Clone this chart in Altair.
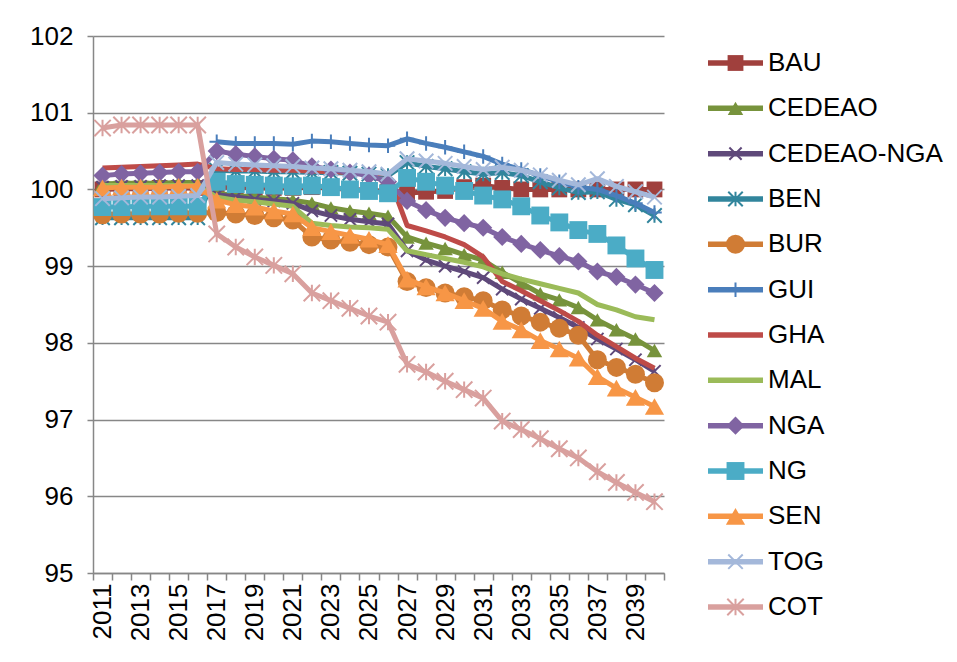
import altair as alt
import pandas as pd

years = list(range(2011, 2041))

BAU = [100.00, 100.01, 100.01, 100.02, 100.02, 100.02,
       100.03, 100.03, 100.02, 100.02, 100.02, 100.03, 100.02, 100.00, 99.99, 99.97,
       99.95, 99.97, 99.98, 100.03, 100.05, 100.02, 100.00, 100.00, 100.00, 100.00, 100.00, 100.00, 100.00, 100.00]
CEDEAO = [100.07, 100.08, 100.08, 100.08, 100.09, 100.09,
          99.95, 99.92, 99.90, 99.88, 99.86, 99.82, 99.76, 99.72, 99.69, 99.65,
          99.38, 99.30, 99.23, 99.15, 99.08, 98.92, 98.78, 98.64, 98.56, 98.46, 98.30, 98.17, 98.05, 97.90]
CEDEAO_NGA = [100.03, 100.04, 100.04, 100.05, 100.05, 100.05,
              99.93, 99.90, 99.87, 99.85, 99.82, 99.72, 99.66, 99.61, 99.58, 99.55,
              99.20, 99.08, 99.00, 98.93, 98.85, 98.70, 98.57, 98.45, 98.33, 98.20, 98.05, 97.92, 97.78, 97.63]
BEN = [99.63, 99.63, 99.63, 99.63, 99.63, 99.63,
       100.25, 100.24, 100.24, 100.23, 100.23, 100.22, 100.22, 100.21, 100.20, 100.18,
       100.35, 100.30, 100.27, 100.23, 100.20, 100.22, 100.18, 100.10, 100.02, 99.96, 99.97, 99.87, 99.80, 99.66]
BUR = [99.67, 99.68, 99.68, 99.68, 99.69, 99.69,
       99.70, 99.68, 99.66, 99.63, 99.60, 99.38, 99.34, 99.31, 99.28, 99.25,
       98.80, 98.72, 98.65, 98.60, 98.55, 98.43, 98.35, 98.27, 98.19, 98.10, 97.78, 97.68, 97.59, 97.48]
GUI = [None, None, None, None, None, None,
       100.62, 100.60, 100.60, 100.60, 100.59, 100.63, 100.62, 100.60, 100.58, 100.57,
       100.66, 100.60, 100.55, 100.49, 100.43, 100.33, 100.26, 100.18, 100.10, 100.03, 100.00, 99.92, 99.82, 99.70]
GHA = [100.28, 100.29, 100.30, 100.31, 100.32, 100.33,
       100.27, 100.26, 100.26, 100.25, 100.25, 100.24, 100.23, 100.22, 100.21, 100.20,
       99.53, 99.46, 99.38, 99.28, 99.12, 98.80, 98.68, 98.55, 98.42, 98.28, 98.10, 97.95, 97.80, 97.67]
MAL = [100.05, 100.05, 100.05, 100.05, 100.05, 100.05,
       99.90, 99.86, 99.84, 99.81, 99.78, 99.56, 99.53, 99.51, 99.50, 99.48,
       99.20, 99.15, 99.10, 99.05, 98.99, 98.90, 98.83, 98.77, 98.71, 98.65, 98.50, 98.43, 98.34, 98.30]
NGA = [100.18, 100.20, 100.21, 100.22, 100.23, 100.23,
       100.50, 100.46, 100.43, 100.40, 100.38, 100.30, 100.26, 100.22, 100.18, 100.10,
       99.85, 99.73, 99.63, 99.56, 99.50, 99.38, 99.29, 99.21, 99.13, 99.06, 98.93, 98.86, 98.76, 98.65]
NG = [99.77, 99.77, 99.78, 99.78, 99.78, 99.78,
      100.10, 100.07, 100.06, 100.05, 100.04, 100.05, 100.03, 100.00, 99.98, 99.95,
      100.15, 100.10, 100.05, 99.98, 99.92, 99.87, 99.78, 99.66, 99.57, 99.47, 99.42, 99.27, 99.10, 98.95]
SEN = [100.02, 100.03, 100.03, 100.03, 100.04, 100.04,
       99.86, 99.80, 99.77, 99.72, 99.68, 99.50, 99.45, 99.40, 99.35, 99.28,
       98.83, 98.73, 98.65, 98.55, 98.45, 98.28, 98.17, 98.03, 97.92, 97.80, 97.56, 97.41, 97.29, 97.17]
TOG = [99.88, 99.89, 99.90, 99.90, 99.91, 99.92,
       100.35, 100.33, 100.32, 100.31, 100.30, 100.28, 100.27, 100.25, 100.23, 100.20,
       100.40, 100.37, 100.34, 100.30, 100.26, 100.29, 100.25, 100.19, 100.12, 100.06, 100.14, 100.04, 99.97, 99.90]
COT = [100.80, 100.84, 100.84, 100.84, 100.84, 100.84,
       99.42, 99.25, 99.12, 99.01, 98.90, 98.65, 98.55, 98.45, 98.35, 98.27,
       97.72, 97.62, 97.50, 97.39, 97.28, 96.98, 96.87, 96.75, 96.62, 96.50, 96.32, 96.18, 96.05, 95.93]

series_names = ["BAU", "CEDEAO", "CEDEAO-NGA", "BEN", "BUR", "GUI", "GHA",
                "MAL", "NGA", "NG", "SEN", "TOG", "COT"]
series_values = [BAU, CEDEAO, CEDEAO_NGA, BEN, BUR, GUI, GHA,
                 MAL, NGA, NG, SEN, TOG, COT]
y_ticks = [95, 96, 97, 98, 99, 100, 101, 102]

colors = {
    "BAU": "#A0403D", "CEDEAO": "#77933C", "CEDEAO-NGA": "#5F497A",
    "BEN": "#31859C", "BUR": "#D07C35", "GUI": "#4A7EBB", "GHA": "#BE4B48",
    "MAL": "#9BBB59", "NGA": "#8064A2", "NG": "#4BACC6", "SEN": "#F79646",
    "TOG": "#A4B8DA", "COT": "#D9A09E",
}
XSHAPE = "M-1,-1L1,1M-1,1L1,-1"
PLUS = "M-1,0L1,0M0,-1L0,1"
STAR = "M-1,-1L1,1M-1,1L1,-1M0,-1L0,1"
markers = {
    "BAU": ("square", True, 250),
    "CEDEAO": ("triangle-up", True, 240),
    "CEDEAO-NGA": (XSHAPE, False, 150),
    "BEN": (STAR, False, 210),
    "BUR": ("circle", True, 360),
    "GUI": (PLUS, False, 210),
    "GHA": None,
    "MAL": None,
    "NGA": ("diamond", True, 330),
    "NG": ("square", True, 320),
    "SEN": ("triangle-up", True, 370),
    "TOG": (XSHAPE, False, 210),
    "COT": (STAR, False, 270),
}

rows = []
for name, vals in zip(series_names, series_values):
    for yr, v in zip(years, vals):
        if v is not None:
            rows.append({"year": yr, "series": name, "value": v})
df = pd.DataFrame(rows)

FONT = "Liberation Sans"
GRID = "#878787"
LW = 5

X = alt.X(
    "year:O",
    scale=alt.Scale(type="band", paddingInner=0, paddingOuter=0),
    bandPosition=0.5,
    axis=alt.Axis(
        title=None, grid=False, tickBand="extent", labelAngle=270,
        labelExpr="datum.value % 2 == 1 ? datum.label : ''",
        labelFont=FONT, labelFontSize=26, labelColor="#000000",
        domainColor=GRID, domainWidth=1.5, tickColor=GRID, tickWidth=1.5,
        tickSize=7, labelPadding=3,
    ),
)
Y = alt.Y(
    "value:Q",
    scale=alt.Scale(domain=[95, 102], nice=False, zero=False),
    axis=alt.Axis(
        title=None, values=y_ticks, grid=True, gridColor=GRID, gridWidth=1.5,
        labelFont=FONT, labelFontSize=26, labelColor="#000000",
        domainColor=GRID, domainWidth=1.5, tickColor=GRID, tickWidth=1.5,
        tickSize=6, labelPadding=14,
    ),
)

base = alt.Chart(df)
layers = []
for name in series_names:
    sub = base.transform_filter(alt.datum.series == name)
    c = colors[name]
    layers.append(
        sub.mark_line(color=c, strokeWidth=LW, strokeJoin="round").encode(x=X, y=Y)
    )
    m = markers[name]
    if m is not None:
        shp, filled, size = m
        if filled:
            layers.append(
                sub.mark_point(shape=shp, filled=True, size=size, color=c, opacity=1,
                               strokeWidth=0).encode(x=X, y=Y)
            )
        else:
            layers.append(
                sub.mark_point(shape=shp, filled=False, size=size, color=c, opacity=1,
                               strokeWidth=2).encode(x=X, y=Y)
            )
main = alt.layer(*layers).properties(width=571, height=537)

leg_df = pd.DataFrame({"series": series_names})
LY = alt.Y("series:N", sort=series_names,
           scale=alt.Scale(type="point", padding=0, range=[27, 571]), axis=None)
leg_base = alt.Chart(leg_df)
leg_layers = []
for name in series_names:
    sub = leg_base.transform_filter(alt.datum.series == name)
    c = colors[name]
    leg_layers.append(
        sub.mark_rule(color=c, strokeWidth=LW + 0.5).encode(
            y=LY, x=alt.value(20), x2=alt.value(75))
    )
    m = markers[name]
    if m is not None:
        shp, filled, size = m
        if filled:
            leg_layers.append(
                sub.mark_point(shape=shp, filled=True, size=size, color=c, opacity=1,
                               strokeWidth=0).encode(y=LY, x=alt.value(47.5))
            )
        else:
            leg_layers.append(
                sub.mark_point(shape=shp, filled=False, size=size, color=c, opacity=1,
                               strokeWidth=2).encode(y=LY, x=alt.value(47.5))
            )
leg_layers.append(
    leg_base.mark_text(align="left", baseline="middle", font=FONT, fontSize=26,
                       color="#000000").encode(y=LY, x=alt.value(80), text="series:N")
)
legend = alt.layer(*leg_layers).properties(width=260, height=537)

chart = (
    alt.hconcat(main, legend, spacing=20)
    .properties(padding={"left": 21, "top": 15, "right": 0, "bottom": 0})
    .configure_view(stroke=None)
)
chart.save("out.html", embed_options={"renderer": "svg", "actions": False})
